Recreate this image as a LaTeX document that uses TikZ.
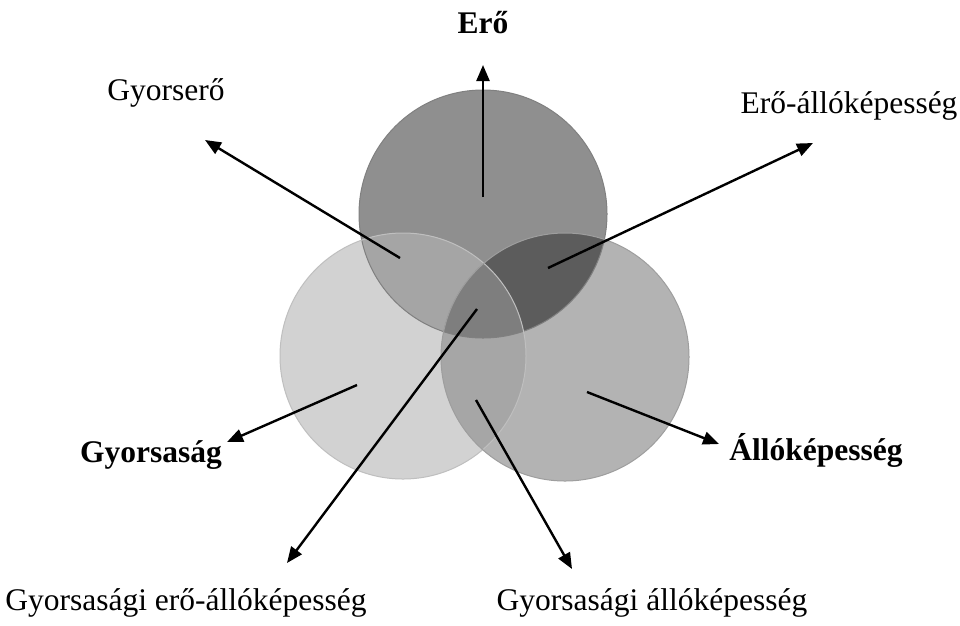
\documentclass[tikz,border=0pt]{standalone}
\usepackage{fontspec}
\setmainfont{Liberation Serif}
\usetikzlibrary{arrows.meta}
\definecolor{cTop}{HTML}{8F8F8F}
\definecolor{cLeft}{HTML}{D2D2D2}
\definecolor{cRight}{HTML}{B3B3B3}
\definecolor{cTL}{HTML}{A5A5A5}
\definecolor{cTR}{HTML}{5C5C5C}
\definecolor{cLR}{HTML}{A6A6A6}
\definecolor{cAll}{HTML}{7E7E7E}
\tikzset{
  lbl/.style={anchor=base, inner sep=0pt, font=\fontsize{31.5}{36}\selectfont},
  blbl/.style={lbl, font=\fontsize{31.5}{36}\selectfont\bfseries},
  arr/.style={-{Triangle[length=16pt,width=13pt]}, line width=2.4pt, black},
  rim/.style={line width=1pt}
}
\begin{document}
\begin{tikzpicture}[x=1pt,y=-1pt]
\useasboundingbox[fill=white] (0,0) rectangle (960,625);
% circle centres
\coordinate (T) at (483,214);
\coordinate (L) at (403,356);
\coordinate (R) at (565,357);
\def\rT{124}\def\rL{123}\def\rR{124}
% base fills
\fill[cTop] (T) circle[radius=\rT];
\fill[cLeft] (L) circle[radius=\rL];
\fill[cRight] (R) circle[radius=\rR];
% pairwise overlaps
\begin{scope}
  \clip (T) circle[radius=\rT];
  \fill[cTL] (L) circle[radius=\rL];
  \fill[cTR] (R) circle[radius=\rR];
\end{scope}
\begin{scope}
  \clip (L) circle[radius=\rL];
  \fill[cLR] (R) circle[radius=\rR];
\end{scope}
\begin{scope}
  \clip (T) circle[radius=\rT];
  \clip (L) circle[radius=\rL];
  \fill[cAll] (R) circle[radius=\rR];
\end{scope}
% rims
\draw[rim, draw=black!50] (T) circle[radius=\rT];
\draw[rim, draw=black!25] (L) circle[radius=\rL];
\draw[rim, draw=black!38] (R) circle[radius=\rR];
% labels
\node[blbl] (ero) at (483,33) {Erő};
\node[lbl] (gyorsero) at (166,100) {Gyorserő};
\node[lbl] (eroallo) at (849,113) {Erő-állóképesség};
\node[blbl] (gyorsasag) at (151,462) {Gyorsaság};
\node[blbl] (allo) at (816,460) {Állóképesség};
\node[lbl] (gyea) at (186,610) {Gyorsasági erő-állóképesség};
\node[lbl] (gya) at (652,610) {Gyorsasági állóképesség};
% arrow ends
\coordinate (s1) at (483,197); \coordinate (e1) at (483,65);
\coordinate (s2) at (400,258); \coordinate (e2) at (205,140);
\coordinate (s3) at (548,268); \coordinate (e3) at (813,143);
\coordinate (s4) at (357,385); \coordinate (e4) at (227,442);
\coordinate (s5) at (587,392); \coordinate (e5) at (719,444);
\coordinate (s6) at (477,309); \coordinate (e6) at (287,563);
\coordinate (s7) at (476,400); \coordinate (e7) at (572,569);
\foreach \i in {1,...,7} {\draw[arr] (s\i) -- (e\i);}
\end{tikzpicture}
\end{document}
